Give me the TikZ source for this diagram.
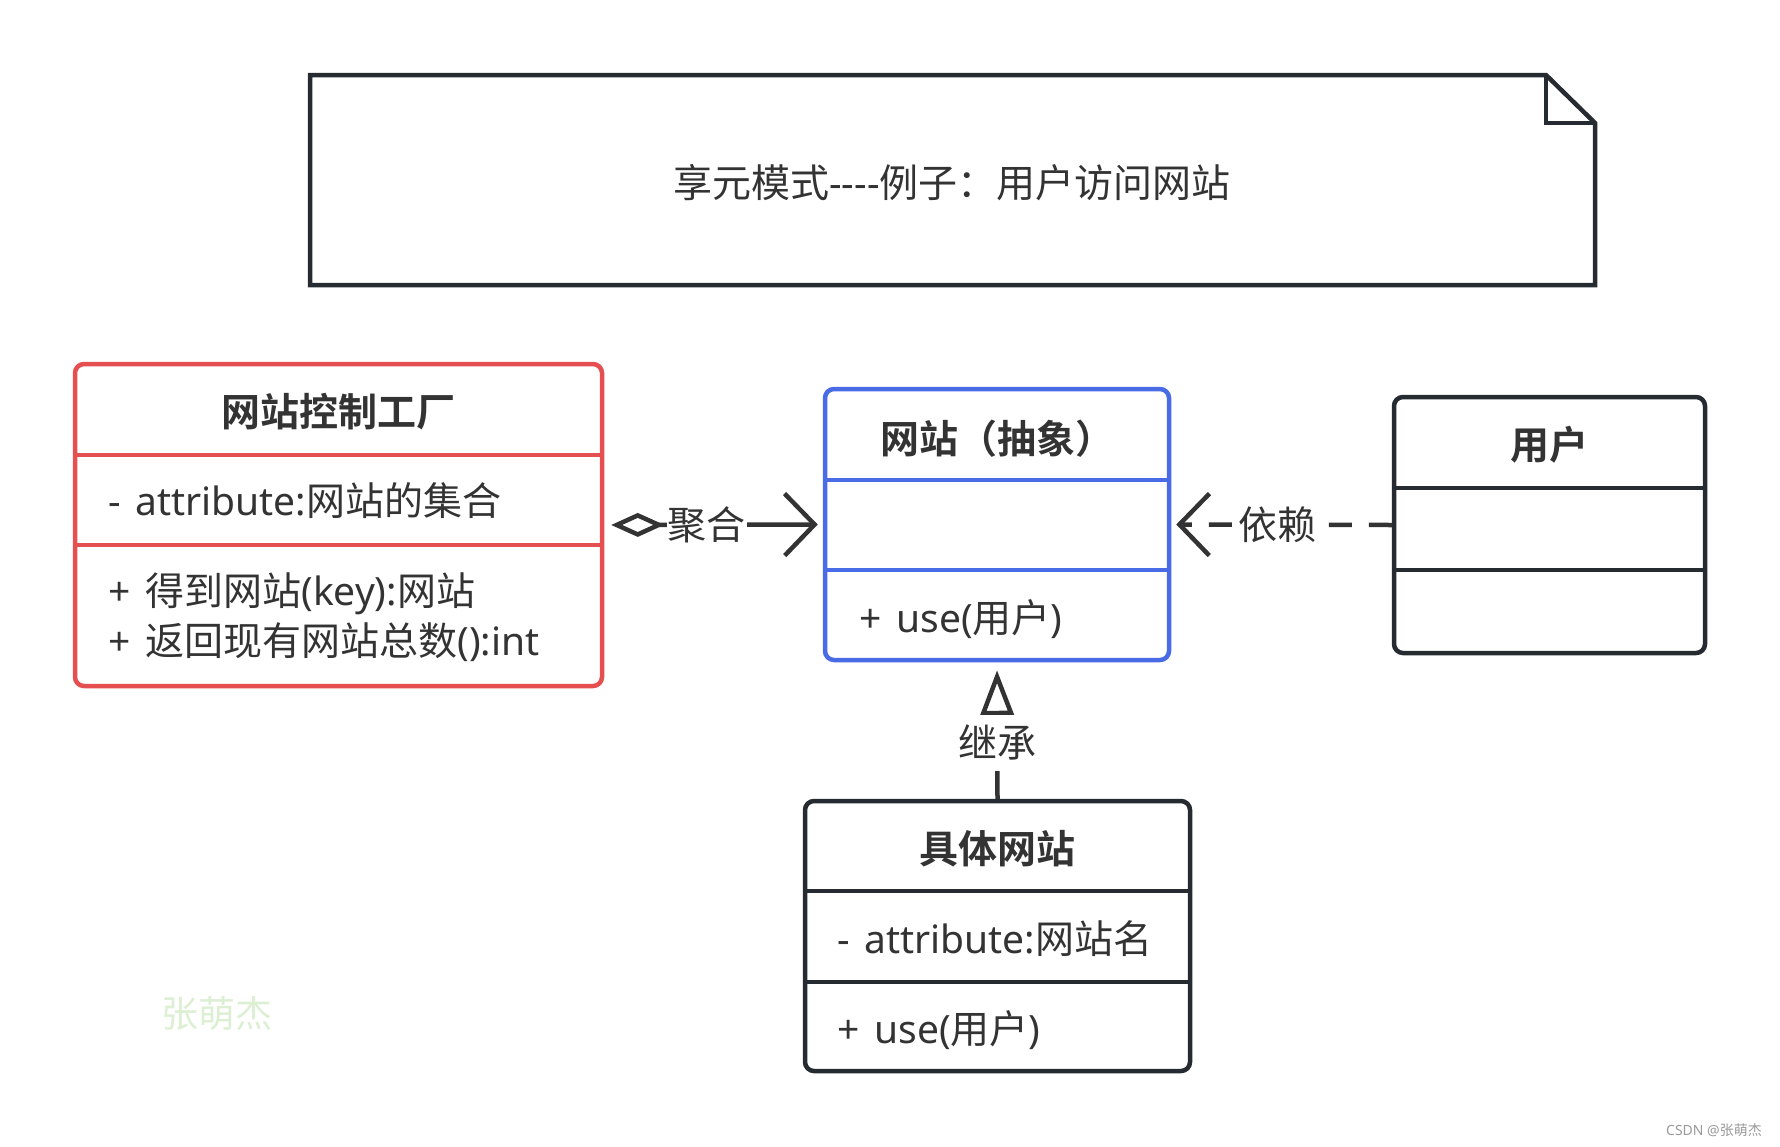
\documentclass[tikz,border=0pt]{standalone}
\usepackage{fontspec}
\setmainfont{Noto Sans}[Ligatures=TeXOff]
\newfontfamily\cjkfont{Noto Sans CJK SC}[BoldFont={Noto Sans CJK SC Bold}]
\newcommand\zh[1]{{\cjkfont #1}}
\newcommand\gap{\hspace{15pt}}
\usetikzlibrary{arrows.meta}
\definecolor{inkdark}{HTML}{262B31}
\definecolor{txtgray}{HTML}{333333}
\definecolor{umlred}{HTML}{E54F4F}
\definecolor{umlblue}{HTML}{4A6BE6}
\definecolor{markgreen}{HTML}{DCEFD3}
\tikzset{
    classbox/.style={draw=inkdark,line width=4.5pt,rounded corners=9pt},
    divider/.style={line width=4.5pt},
    classname/.style={font=\fontsize{39}{42}\selectfont\cjkfont\bfseries,text=txtgray},
    member/.style={font=\fontsize{39}{50}\selectfont,text=txtgray,anchor=west,align=left},
    relation/.style={draw=txtgray,line width=4.5pt},
    edgelabel/.style={fill=white,font=\fontsize{39}{42}\selectfont\cjkfont,text=txtgray,inner xsep=1pt,inner ysep=4pt},
    dependency/.style={relation,dash pattern=on 23pt off 17pt},
    openbarb/.style={-{Straight Barb[length=30pt,width=62pt]}}
}

\begin{document}
\begin{tikzpicture}[x=1pt,y=-1pt]
\useasboundingbox (0,0) rectangle (1780,1146);
% note
\draw[draw=inkdark,line width=4.5pt,line join=miter] (310,75)--(1546,75)--(1595,123)--(1595,285)--(310,285)--cycle;
\draw[draw=inkdark,line width=4.5pt] (1546,75)--(1546,123)--(1595,123);
\node[font=\fontsize{39}{42}\selectfont,text=txtgray] (notetitle) at (952,183) {\zh{享元模式}----\zh{例子：用户访问网站}};
% classes
\node[classbox,draw=umlred,minimum width=527pt,minimum height=322pt] (factory) at (338.5,525) {};
\draw[divider,umlred] (75,455)--(602,455);
\draw[divider,umlred] (75,545)--(602,545);
\node[classname] (factoryname) at (338.5,412) {网站控制工厂};
\node[member] (factoryattr) at (104.5,501) {-\gap attribute:\zh{网站的集合}};
\node[member] (factoryops) at (104.5,617) {+\gap\zh{得到网站}(key):\zh{网站}\\+\gap\zh{返回现有网站总数}():int};

\node[classbox,draw=umlblue,minimum width=344pt,minimum height=271pt] (site) at (997,524.5) {};
\draw[divider,umlblue] (825,480)--(1169,480);
\draw[divider,umlblue] (825,570)--(1169,570);
\node[classname] (sitename) at (997,439) {网站（抽象）};
\node[member] (siteops) at (855.5,619) {+\gap use(\zh{用户})};

\node[classbox,minimum width=311pt,minimum height=256pt] (user) at (1549.5,525) {};
\draw[divider,inkdark] (1394,488)--(1705,488);
\draw[divider,inkdark] (1394,570)--(1705,570);
\node[classname] (username) at (1549.5,445) {用户};

\node[classbox,minimum width=385pt,minimum height=270pt] (concrete) at (997.5,936) {};
\draw[divider,inkdark] (805,891)--(1190,891);
\draw[divider,inkdark] (805,982)--(1190,982);
\node[classname] (concretename) at (997.5,849) {具体网站};
\node[member] (concreteattr) at (833.5,939) {-\gap attribute:\zh{网站名}};
\node[member] (concreteops) at (833.5,1030) {+\gap use(\zh{用户})};
% relations
\draw[relation,{Diamond[open,length=53pt,width=24pt]}-{Straight Barb[length=30pt,width=62pt]},shorten <=7pt,shorten >=5pt] (factory.east)--node[edgelabel,pos=0.47]{聚合}(site.west);
\draw[dependency,openbarb,shorten >=5pt] (user.west)--node[edgelabel,pos=0.52]{依赖}(site.east);
\draw[relation,-{Triangle[open,length=45pt,width=33pt]},shorten >=8pt] (concrete.north)--node[edgelabel,pos=0.41,inner ysep=10pt]{继承}(site.south);
% marks
\node[font=\fontsize{37}{40}\selectfont\cjkfont,text=markgreen] (watermark) at (217,1014) {张萌杰};
\node[font=\fontsize{14}{16}\selectfont,text=gray!80] (csdn) at (1714,1130) {CSDN @\zh{张萌杰}};
\end{tikzpicture}
\end{document}
